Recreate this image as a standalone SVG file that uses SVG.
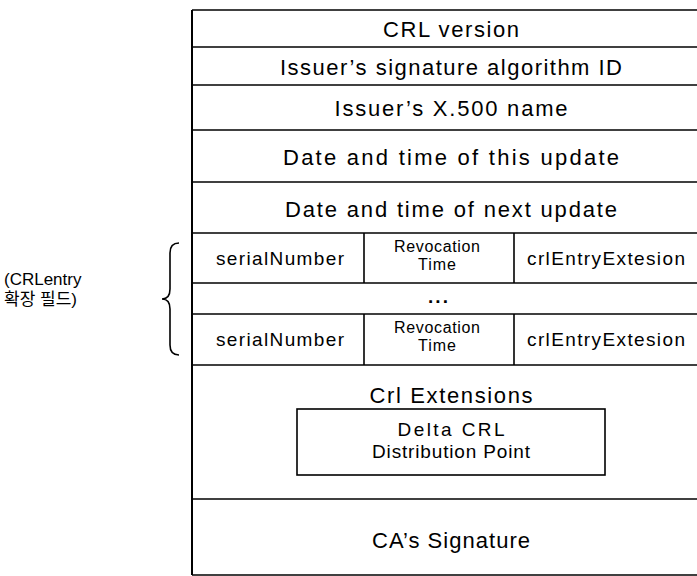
<svg xmlns="http://www.w3.org/2000/svg" width="697" height="576" viewBox="0 0 697 576">
<style>
.ln{stroke:#000;stroke-width:1.6;fill:none}
.t{font-family:"Liberation Sans",Arial,sans-serif;fill:#000;text-anchor:middle}
.big{font-size:22px}
.mid{font-size:19px}
.sm{font-size:16px}
.lbl{font-family:"Liberation Sans","Noto Sans CJK KR",sans-serif;font-size:17px;fill:#000}
</style>
<rect width="697" height="576" fill="#fff"/>
<g id="frame">
<line class="ln" x1="192" y1="10" x2="192" y2="575" style="stroke-width:2"/>
<line class="ln" x1="192" y1="10" x2="697" y2="10"/>
<line class="ln" x1="192" y1="575" x2="697" y2="575"/>
</g>
<g id="crl-version">
<line class="ln" x1="192" y1="47" x2="697" y2="47"/>
<text class="t big" x="451" y="37" textLength="136" lengthAdjust="spacing">CRL version</text>
</g>
<g id="issuer-sig-alg">
<line class="ln" x1="192" y1="85" x2="697" y2="85"/>
<text class="t big" x="451" y="75" textLength="342" lengthAdjust="spacing">Issuer’s signature algorithm ID</text>
</g>
<g id="issuer-name">
<line class="ln" x1="192" y1="130" x2="697" y2="130"/>
<text class="t big" x="451" y="116" textLength="233" lengthAdjust="spacing">Issuer’s X.500 name</text>
</g>
<g id="this-update">
<line class="ln" x1="192" y1="182" x2="697" y2="182"/>
<text class="t big" x="451" y="165" textLength="336" lengthAdjust="spacing">Date and time of this update</text>
</g>
<g id="next-update">
<line class="ln" x1="192" y1="233" x2="697" y2="233"/>
<text class="t big" x="451" y="217" textLength="332" lengthAdjust="spacing">Date and time of next update</text>
</g>
<g id="entry-1">
<line class="ln" x1="192" y1="283" x2="697" y2="283"/>
<line class="ln" x1="364" y1="233" x2="364" y2="283"/>
<line class="ln" x1="514" y1="233" x2="514" y2="283"/>
<text class="t mid" x="280" y="265" textLength="128" lengthAdjust="spacing">serialNumber</text>
<text class="t sm" x="437" y="252" textLength="86" lengthAdjust="spacing">Revocation</text>
<text class="t sm" x="437" y="270" textLength="38" lengthAdjust="spacing">Time</text>
<text class="t mid" x="606" y="265" textLength="158" lengthAdjust="spacing">crlEntryExtesion</text>
</g>
<g id="ellipsis">
<line class="ln" x1="192" y1="314" x2="697" y2="314"/>
<text class="t mid" x="438" y="303" style="font-weight:bold" textLength="20" lengthAdjust="spacing">...</text>
</g>
<g id="entry-n">
<line class="ln" x1="192" y1="365" x2="697" y2="365"/>
<line class="ln" x1="364" y1="314" x2="364" y2="365"/>
<line class="ln" x1="514" y1="314" x2="514" y2="365"/>
<text class="t mid" x="280" y="346" textLength="128" lengthAdjust="spacing">serialNumber</text>
<text class="t sm" x="437" y="333" textLength="86" lengthAdjust="spacing">Revocation</text>
<text class="t sm" x="437" y="351" textLength="38" lengthAdjust="spacing">Time</text>
<text class="t mid" x="606" y="346" textLength="158" lengthAdjust="spacing">crlEntryExtesion</text>
</g>
<g id="crl-extensions">
<line class="ln" x1="192" y1="499" x2="697" y2="499"/>
<text class="t big" x="451" y="403" textLength="163" lengthAdjust="spacing">Crl Extensions</text>
</g>
<g id="delta-crl">
<rect class="ln" x="297" y="409" width="308" height="66"/>
<text class="t mid" x="451" y="436" textLength="107" lengthAdjust="spacing">Delta CRL</text>
<text class="t mid" x="451" y="458" textLength="158" lengthAdjust="spacing">Distribution Point</text>
</g>
<g id="ca-signature">
<text class="t big" x="451" y="548" textLength="158" lengthAdjust="spacing">CA’s Signature</text>
</g>
<g id="connectors">
<path class="ln" d="M179,243 Q170,243 170,253 L170,289 Q170,299 162,299 Q170,299 170,309 L170,345 Q170,355 179,355"/>
</g>
<g id="crlentry-label">
<text class="lbl" x="4" y="285">(CRLentry</text>
<text class="lbl" x="4" y="305">확장 필드)</text>
</g>
</svg>
